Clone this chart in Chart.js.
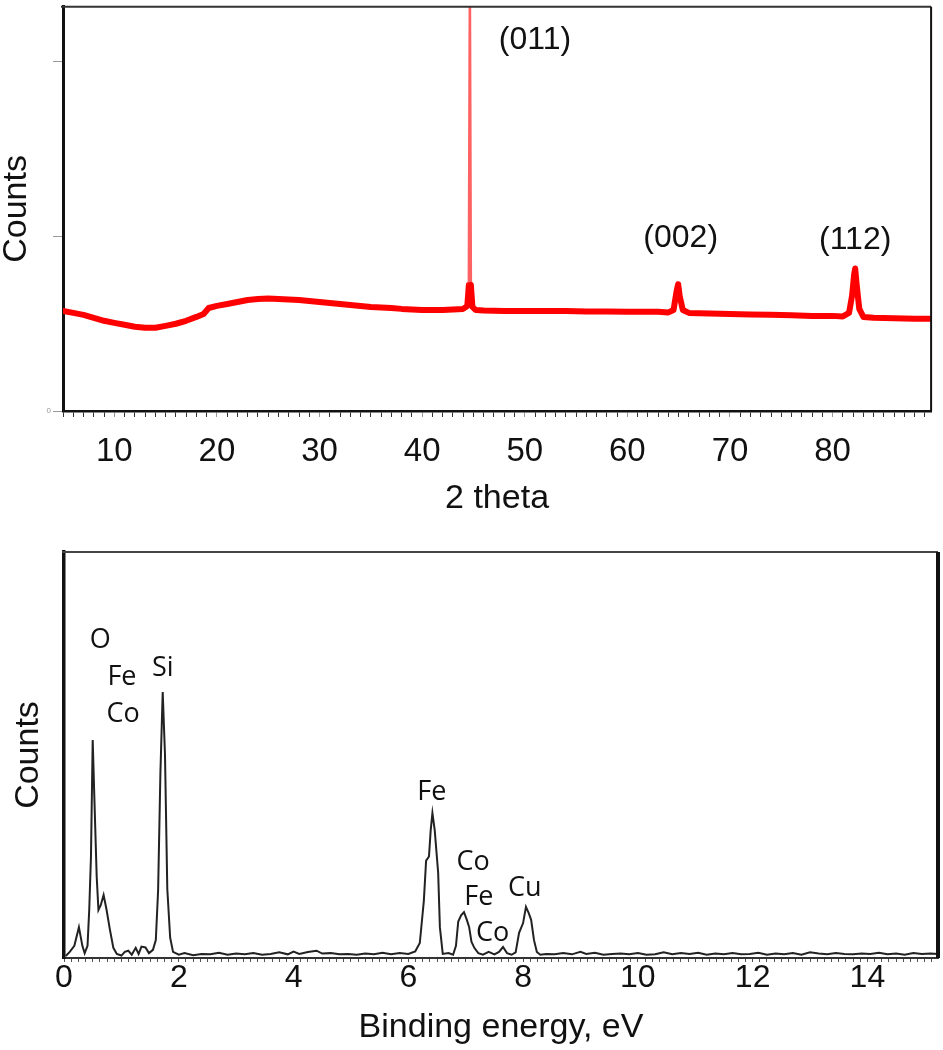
<!DOCTYPE html>
<html>
<head>
<meta charset="utf-8">
<title>XRD and EDS</title>
<script src="https://cdn.jsdelivr.net/npm/chart.js@4.4.0/dist/chart.umd.min.js"></script>
<style>
  html, body { margin: 0; padding: 0; background: #fff; }
  .wrap { position: relative; width: 943px; }
</style>
</head>
<body>
<div class="wrap" style="height:530px"><canvas id="xrdChart"></canvas></div>
<div class="wrap" style="height:520px"><canvas id="edsChart"></canvas></div>
<script>
// XRD pattern (2 theta, arbitrary counts)
var xrdTheta = [5, 6, 7, 8, 9, 10, 11, 12, 13, 14, 15, 16, 17, 18, 18.7, 19.2, 20, 21, 22, 23, 24, 25, 26, 27, 28, 29, 30,
    31, 32, 33, 34, 35, 36, 37, 38, 39, 40, 41, 42, 43, 44, 44.4, 44.55, 44.65, 44.75, 44.9, 45.2, 46, 48, 50, 52, 54, 56,
    58, 60, 62, 63, 64, 64.5, 64.8, 64.95, 65.1, 65.4, 66, 68, 70, 72, 74, 76, 78, 80, 81, 81.6, 81.9, 82.1, 82.2, 82.35,
    82.6, 83, 84, 86, 88, 89.6];
var xrdCounts = [0.572, 0.561, 0.550, 0.533, 0.516, 0.504, 0.493, 0.482, 0.476, 0.476, 0.487, 0.499, 0.516, 0.538, 0.555,
    0.589, 0.601, 0.612, 0.623, 0.635, 0.640, 0.643, 0.640, 0.637, 0.635, 0.629, 0.623, 0.618, 0.612, 0.606, 0.601, 0.595,
    0.592, 0.589, 0.584, 0.581, 0.578, 0.578, 0.578, 0.581, 0.584, 0.600, 0.720, 2.45, 0.720, 0.595, 0.578, 0.575, 0.572,
    0.572, 0.572, 0.572, 0.569, 0.569, 0.567, 0.567, 0.567, 0.564, 0.578, 0.686, 0.725, 0.657, 0.578, 0.561, 0.558, 0.555,
    0.552, 0.550, 0.547, 0.544, 0.544, 0.541, 0.561, 0.660, 0.780, 0.815, 0.720, 0.584, 0.538, 0.533, 0.530, 0.527, 0.527];
var xrdLabels = ['(011)', '(002)', '(112)'];
var xrdLabelX = [51.0, 65.2, 82.2];
var xrdLabelY = [2.12, 0.99, 0.975];

// EDS spectrum (binding energy eV, counts)
var edsEnergy = [0.03, 0.1, 0.18, 0.26, 0.32, 0.36, 0.41, 0.44, 0.47, 0.5, 0.53, 0.57, 0.6, 0.64, 0.69, 0.74, 0.8, 0.86,
    0.92, 1.0, 1.06, 1.12, 1.18, 1.25, 1.3, 1.35, 1.42, 1.48, 1.55, 1.6, 1.64, 1.68, 1.72, 1.76, 1.8, 1.85, 1.9,
    2.0, 2.1, 2.25, 2.4, 2.55, 2.7, 2.85, 3.0, 3.15, 3.3, 3.45, 3.6, 3.75, 3.9, 4.0, 4.1, 4.25, 4.4, 4.5, 4.65, 4.8, 4.95,
    5.1, 5.25, 5.4, 5.55, 5.7, 5.85, 6.0, 6.12, 6.2, 6.27, 6.31, 6.36, 6.39, 6.42, 6.46, 6.52, 6.55, 6.6, 6.7, 6.78,
    6.83, 6.87, 6.92, 6.97, 7.02, 7.06, 7.1, 7.15, 7.22, 7.3, 7.4, 7.5, 7.58, 7.65, 7.72, 7.8, 7.87, 7.93, 8.0, 8.05,
    8.1, 8.14, 8.19, 8.24, 8.3, 8.4, 8.55, 8.7, 8.85, 9.0, 9.1, 9.25, 9.4, 9.55, 9.7, 9.85, 10.0, 10.15, 10.3, 10.45,
    10.6, 10.75, 10.9, 11.05, 11.2, 11.35, 11.5, 11.65, 11.8, 11.95, 12.1, 12.25, 12.4, 12.55, 12.7, 12.85, 13.0, 13.15,
    13.3, 13.45, 13.6, 13.75, 13.9, 14.05, 14.2, 14.35, 14.5, 14.65, 14.8, 14.95, 15.1, 15.23];
var edsCounts = [0.5, 1.5, 3, 7.6, 3, 1.2, 3, 12, 25, 53.7, 39, 20, 11.8, 13, 15.5, 12, 7, 2.5,
    1, 0.6, 1.5, 1.8, 0.8, 2.5, 1, 2.8, 2.6, 1.2, 2, 4.4, 16.7, 45.6, 65.5, 50, 17, 5, 1.5,
    0.8, 1.2, 0.7, 1.0, 0.9, 1.3, 0.8, 1.1, 0.9, 1.2, 0.8, 1.0, 1.4, 0.9, 1.6, 1.0, 1.5, 1.8, 1.1, 1.2, 0.9, 1.0,
    0.8, 1.1, 0.9, 1.3, 0.9, 1.2, 1.0, 1.6, 3.7, 14, 24, 25, 31.5, 35.7, 31.5, 21, 7.6, 1.0, 1.2, 0.8,
    3, 9, 10.5, 11.3, 9.4, 7.6, 4, 2.5, 1.2, 0.8, 1.5, 0.9, 1.5, 2.7, 1.2, 0.8, 1.4, 6.2, 8.6, 12.6,
    11, 9.4, 4.4, 1.5, 0.8, 1.0, 0.9, 1.2, 0.9, 1.5, 1.0, 1.3, 0.8, 1.0, 1.1, 0.9, 1.2, 0.8, 0.9, 1.4,
    0.9, 1.2, 1.0, 1.3, 0.8, 1.1, 0.9, 1.2, 0.9, 1.0, 1.3, 0.8, 1.1, 0.9, 1.2, 0.8, 1.4, 1.1,
    0.9, 1.2, 1.0, 0.9, 1.1, 1.0, 1.3, 0.9, 1.1, 0.8, 1.2, 1.0, 1.1, 1.0];
var edsLabels = ['O', 'Fe', 'Co', 'Si', 'Fe', 'Co', 'Fe', 'Co', 'Cu'];
var edsLabelX = [0.63, 1.01, 1.03, 1.72, 6.41, 7.13, 7.23, 7.47, 8.03];
var edsLabelY = [78.3, 69.2, 59.9, 71.4, 40.9, 23.6, 15.0, 6.2, 17.2];

var sans = "'Liberation Sans', Arial, sans-serif";

// text labels sitting on the data
var peakLabelPlugin = {
    id: 'peakLabels',
    afterDatasetsDraw: function (chart, args, opts) {
        var ctx = chart.ctx;
        ctx.save();
        ctx.font = opts.font;
        ctx.fillStyle = opts.color;
        ctx.textAlign = 'center';
        ctx.textBaseline = 'middle';
        for (var i = 0; i < opts.text.length; i++) {
            ctx.fillText(opts.text[i], chart.scales.x.getPixelForValue(opts.xs[i]),
                chart.scales.y.getPixelForValue(opts.ys[i]));
        }
        ctx.restore();
    }
};

// top and right sides of the box
var framePlugin = {
    id: 'frame',
    afterDraw: function (chart, args, opts) {
        var a = chart.chartArea, ctx = chart.ctx;
        ctx.save();
        ctx.strokeStyle = opts.topColor;
        ctx.lineWidth = opts.topWidth;
        ctx.beginPath(); ctx.moveTo(a.left - 2, a.top); ctx.lineTo(a.right, a.top); ctx.stroke();
        ctx.strokeStyle = opts.rightColor;
        ctx.lineWidth = opts.rightWidth;
        ctx.beginPath(); ctx.moveTo(a.right, a.top); ctx.lineTo(a.right, a.bottom); ctx.stroke();
        ctx.restore();
    }
};

function isSpike(c) {
    return Math.max(c.p0.parsed.y, c.p1.parsed.y) > 1.2;
}

new Chart(document.getElementById('xrdChart'), {
    type: 'line',
    data: {
        datasets: [{
            data: xrdTheta.map(function (t, i) { return {x: t, y: xrdCounts[i]}; }),
            borderColor: '#ff0000',
            borderWidth: 6,
            borderJoinStyle: 'round',
            borderCapStyle: 'round',
            pointRadius: 0,
            tension: 0,
            fill: false,
            segment: {
                borderWidth: function (c) { return isSpike(c) ? 2.5 : 6; },
                borderColor: function (c) { return isSpike(c) ? 'rgba(255,70,70,0.85)' : '#ff0000'; }
            }
        }]
    },
    options: {
        responsive: true,
        maintainAspectRatio: false,
        animation: false,
        layout: {padding: {left: 0, right: 8, top: 3, bottom: 14}},
        plugins: {
            legend: {display: false},
            tooltip: {enabled: false},
            peakLabels: {text: xrdLabels, xs: xrdLabelX, ys: xrdLabelY, font: '32px ' + sans, color: '#111'},
            frame: {topColor: '#333', topWidth: 2, rightColor: '#111', rightWidth: 2}
        },
        scales: {
            x: {
                type: 'linear',
                min: 5,
                max: 89.6,
                afterFit: function (s) { s.height = 105; },
                border: {color: '#111', width: 2.5},
                grid: {
                    drawOnChartArea: false,
                    tickLength: 6,
                    tickWidth: 1,
                    tickColor: function (c) { return c.tick && c.tick.value % 10 === 0 ? '#999' : '#333'; }
                },
                ticks: {
                    stepSize: 1,
                    autoSkip: false,
                    includeBounds: false,
                    maxRotation: 0,
                    padding: 18,
                    color: '#111',
                    font: {family: sans, size: 33, lineHeight: 1},
                    callback: function (v) { return v % 10 === 0 ? v : ''; }
                },
                title: {
                    display: true,
                    text: '2 theta',
                    color: '#111',
                    font: {family: sans, size: 34, lineHeight: 1},
                    padding: {top: 14, bottom: 0}
                }
            },
            y: {
                min: 0,
                max: 2.3116,
                afterFit: function (s) { s.width = 63; },
                border: {color: '#111', width: 3},
                grid: {drawOnChartArea: false, tickLength: 10, tickColor: '#999'},
                ticks: {
                    stepSize: 1,
                    includeBounds: false,
                    padding: 2,
                    color: '#999',
                    font: {family: sans, size: 8},
                    callback: function (v) { return v === 0 ? '0' : ''; }
                },
                title: {
                    display: true,
                    text: 'Counts',
                    color: '#111',
                    font: {family: sans, size: 34, lineHeight: 1},
                    padding: 0
                }
            }
        }
    },
    plugins: [peakLabelPlugin, framePlugin]
});

new Chart(document.getElementById('edsChart'), {
    type: 'line',
    data: {
        datasets: [{
            data: edsEnergy.map(function (e, i) { return {x: e, y: edsCounts[i]}; }),
            borderColor: '#222',
            borderWidth: 2,
            pointRadius: 0,
            tension: 0,
            fill: false
        }]
    },
    options: {
        responsive: true,
        maintainAspectRatio: false,
        animation: false,
        layout: {padding: {left: 0, right: 5, top: 22, bottom: 5}},
        plugins: {
            legend: {display: false},
            tooltip: {enabled: false},
            peakLabels: {text: edsLabels, xs: edsLabelX, ys: edsLabelY, font: "27px 'Open Sans', sans-serif", color: '#111'},
            frame: {topColor: '#444', topWidth: 2, rightColor: '#111', rightWidth: 4}
        },
        scales: {
            x: {
                type: 'linear',
                min: 0,
                max: 15.23,
                border: {color: '#333', width: 2},
                grid: {drawOnChartArea: false, tickLength: 4, tickWidth: 1, tickColor: '#555'},
                ticks: {
                    stepSize: 0.125,
                    autoSkip: false,
                    includeBounds: false,
                    maxRotation: 0,
                    padding: 0,
                    color: '#111',
                    font: {family: sans, size: 32, lineHeight: 1},
                    callback: function (v) {
                        var r = Math.round(v);
                        return (Math.abs(v - r) < 1e-6 && r % 2 === 0) ? r : '';
                    }
                },
                title: {
                    display: true,
                    text: 'Binding energy, eV',
                    color: '#111',
                    font: {family: sans, size: 34, lineHeight: 1},
                    padding: {top: 17, bottom: 0}
                }
            },
            y: {
                min: 0,
                max: 100,
                afterFit: function (s) { s.width = 64; },
                border: {color: '#111', width: 3.5},
                grid: {display: false},
                ticks: {display: false},
                title: {
                    display: true,
                    text: 'Counts',
                    color: '#111',
                    font: {family: sans, size: 34, lineHeight: 1},
                    padding: {top: 12, bottom: 0}
                }
            }
        }
    },
    plugins: [peakLabelPlugin, framePlugin]
});
</script>
</body>
</html>
